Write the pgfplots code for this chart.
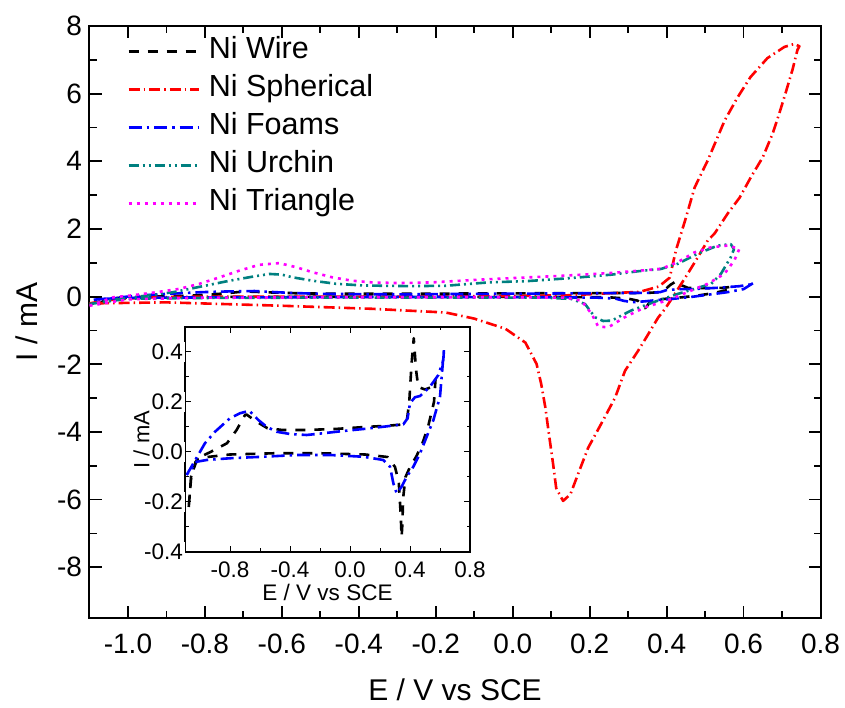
\documentclass[border=0pt]{standalone}
\usepackage{fontspec}
\setmainfont{Liberation Sans}
\usepackage{pgfplots}
\pgfplotsset{compat=1.18}
\definecolor{urchin}{RGB}{0,128,128}
\definecolor{triang}{RGB}{255,0,255}
\definecolor{foam}{RGB}{0,0,255}
\definecolor{spher}{RGB}{255,0,0}

\pgfplotstableread{
x y
-1.075 -0.22
-1.06 -0.11
-1.03 -0.04
-1.0 -0.02
-0.93 0.0
-0.82 0.035
-0.756 0.088
-0.70 0.148
-0.69 0.15
-0.62 0.12
-0.55 0.095
-0.45 0.088
-0.30 0.088
-0.10 0.092
0.10 0.10
0.25 0.105
0.35 0.11
0.38 0.13
0.395 0.20
0.41 0.35
0.425 0.455
0.44 0.33
0.455 0.26
0.50 0.25
0.545 0.26
0.57 0.29
0.56 0.20
0.52 0.10
0.48 0.03
0.44 -0.02
0.40 -0.06
0.37 -0.10
0.355 -0.18
0.348 -0.30
0.344 -0.34
0.338 -0.25
0.325 -0.12
0.30 -0.06
0.25 -0.02
0.10 -0.01
-0.20 -0.005
-0.50 -0.005
-0.80 -0.01
-0.95 -0.02
-1.02 -0.03
-1.06 -0.10
-1.075 -0.22
}\wire

\pgfplotstableread{
x y
-1.089 -0.092
-0.967 0.035
-0.90 0.081
-0.80 0.135
-0.733 0.155
-0.671 0.165
-0.611 0.128
-0.556 0.101
-0.489 0.081
-0.40 0.072
-0.289 0.068
-0.178 0.075
-0.044 0.084
0.089 0.092
0.222 0.101
0.356 0.111
0.384 0.135
0.40 0.195
0.433 0.219
0.467 0.224
0.533 0.261
0.589 0.308
0.622 0.368
0.627 0.415
0.60 0.221
0.556 0.128
0.511 0.061
0.467 -0.005
0.422 -0.059
0.378 -0.099
0.344 -0.139
0.311 -0.165
0.289 -0.125
0.267 -0.059
0.222 -0.032
0.089 -0.019
-0.133 -0.012
-0.356 -0.012
-0.578 -0.019
-0.80 -0.025
-0.956 -0.032
-1.022 -0.039
-1.089 -0.092
}\foams

\pgfplotstableread{
x y
-1.10 -0.20
-1.05 -0.10
-0.95 -0.02
-0.80 0.0
-0.50 0.0
-0.20 0.0
0.00 0.02
0.15 0.04
0.25 0.10
0.33 0.14
0.38 0.30
0.408 0.56
0.424 1.36
0.448 2.25
0.473 3.23
0.507 4.03
0.551 5.21
0.585 5.90
0.618 6.49
0.662 7.05
0.706 7.38
0.732 7.47
0.745 7.40
0.740 7.29
0.727 6.70
0.709 6.01
0.693 5.42
0.676 4.83
0.650 4.12
0.619 3.53
0.590 2.93
0.559 2.46
0.525 1.87
0.507 1.66
0.481 1.16
0.455 0.68
0.422 0.09
0.396 -0.36
0.378 -0.62
0.347 -1.21
0.326 -1.60
0.292 -2.19
0.266 -2.99
0.230 -3.76
0.196 -4.47
0.170 -5.24
0.150 -5.84
0.131 -6.04
0.113 -5.66
0.105 -4.95
0.093 -3.97
0.085 -3.29
0.074 -2.58
0.062 -1.99
0.033 -1.36
-0.019 -0.95
-0.10 -0.65
-0.174 -0.47
-0.366 -0.36
-0.60 -0.27
-0.90 -0.17
-1.10 -0.20
}\spherical

\pgfplotstableread{
x y
-1.10 -0.22
-1.04 -0.10
-0.952 0.03
-0.883 0.13
-0.796 0.33
-0.736 0.47
-0.676 0.59
-0.632 0.67
-0.600 0.65
-0.572 0.57
-0.520 0.47
-0.460 0.38
-0.391 0.33
-0.27 0.31
-0.175 0.32
-0.063 0.42
0.040 0.46
0.153 0.55
0.257 0.65
0.326 0.75
0.386 0.82
0.429 0.97
0.481 1.27
0.533 1.51
0.567 1.55
0.575 1.40
0.567 1.17
0.541 0.67
0.516 0.38
0.473 0.23
0.429 0.08
0.377 -0.12
0.308 -0.41
0.257 -0.71
0.235 -0.72
0.214 -0.61
0.188 -0.22
0.153 -0.07
0.084 -0.03
-0.20 -0.03
-0.50 -0.03
-0.80 -0.04
-1.00 -0.06
-1.10 -0.22
}\urchin

\pgfplotstableread{
x y
-1.10 -0.27
-1.038 -0.02
-0.995 0.03
-0.926 0.13
-0.866 0.23
-0.814 0.38
-0.762 0.57
-0.710 0.77
-0.659 0.94
-0.607 0.99
-0.563 0.87
-0.520 0.72
-0.469 0.57
-0.417 0.47
-0.365 0.42
-0.296 0.40
-0.21 0.42
-0.089 0.50
0.136 0.62
0.257 0.70
0.386 0.82
0.429 1.02
0.473 1.31
0.516 1.46
0.559 1.51
0.589 1.41
0.576 1.07
0.550 0.67
0.507 0.38
0.464 0.18
0.412 -0.07
0.343 -0.32
0.291 -0.61
0.248 -0.91
0.222 -0.88
0.205 -0.51
0.179 -0.12
0.136 -0.03
0.00 -0.02
-0.40 -0.02
-0.80 -0.03
-1.00 -0.08
-1.10 -0.27
}\triangle

\begin{document}
\begin{tikzpicture}
\path[use as bounding box] (-89.5pt,-90pt) rectangle (755.5pt,618pt);
\begin{axis}[
  at={(0pt,0pt)}, anchor=south west, scale only axis,
  width=731pt, height=592pt,
  xmin=-1.1, xmax=0.8, ymin=-9.5, ymax=8,
  xtick={-1,-0.8,-0.6,-0.4,-0.2,0,0.2,0.4,0.6,0.8},
  ytick={-8,-6,-4,-2,0,2,4,6,8},
  minor x tick num=1, minor y tick num=1,
  tick align=inside,
  xticklabel pos=lower, yticklabel pos=left,
  major tick length=12pt, minor tick length=7pt,
  every tick/.style={line width=1.8pt, black},
  axis line style={line width=2pt},
  tick label style={font=\fontsize{28}{32}\selectfont},
  /pgf/number format/assume math mode=true,
  xticklabel style={/pgf/number format/.cd, fixed, fixed zerofill, precision=1, /tikz/.cd, yshift=-12pt},
  yticklabel style={/pgf/number format/.cd, fixed, precision=0, /tikz/.cd, xshift=-4pt},
  xlabel={E / V vs SCE}, ylabel={I / mA},
  every axis x label/.style={at={(axis description cs:0.5,-0.1216)}, anchor=center, font=\fontsize{30}{34}\selectfont},
  every axis y label/.style={at={(axis description cs:-0.0855,0.5)}, rotate=90, anchor=center, font=\fontsize{30}{34}\selectfont},
  legend cell align=left,
  legend style={draw=none, fill=none, at={(axis description cs:0.0513,0.982)}, anchor=north west,
    inner sep=0pt, row sep=9pt, font=\fontsize{30.5}{34}\selectfont,
    nodes={inner sep=1pt, text height=21pt, text depth=6pt}},
  legend image code/.code={\draw[#1] (0pt,0pt) -- (70pt,0pt); \path (78pt,0pt);},
  every axis plot/.append style={line width=2.6pt, line join=round},
]
\addplot[black, dash pattern=on 10pt off 9pt] table {\wire};
\addlegendentry{Ni Wire}
\addplot[spher, dash pattern=on 11pt off 4pt on 1.5pt off 4pt] table {\spherical};
\addlegendentry{Ni Spherical}
\addplot[foam, dash pattern=on 13pt off 5pt on 2.5pt off 5pt] table {\foams};
\addlegendentry{Ni Foams}
\addplot[urchin, dash pattern=on 10pt off 4pt on 2pt off 4pt on 2pt off 4pt] table {\urchin};
\addlegendentry{Ni Urchin}
\addplot[triang, dash pattern=on 3pt off 5pt] table {\triangle};
\addlegendentry{Ni Triangle}
\end{axis}

\node[rotate=90, font=\fontsize{22}{26}\selectfont] at (52pt,178.5pt) {I / mA};

\begin{axis}[
  at={(95.5pt,66pt)}, anchor=south west, scale only axis,
  width=285pt, height=225pt,
  xmin=-1.1, xmax=0.8, ymin=-0.4, ymax=0.5,
  axis background/.style={fill=white},
  xtick={-0.8,-0.4,0,0.4,0.8},
  ytick={-0.4,-0.2,0,0.2,0.4},
  minor x tick num=1, minor y tick num=1,
  tick align=inside,
  xticklabel pos=lower, yticklabel pos=left,
  major tick length=6pt, minor tick length=3.5pt,
  every tick/.style={line width=1pt, black},
  axis line style={line width=1.2pt},
  tick label style={font=\fontsize{22.5}{26}\selectfont, fill=white, inner sep=2pt},
  /pgf/number format/assume math mode=true,
  xticklabel style={/pgf/number format/.cd, fixed, fixed zerofill, precision=1, /tikz/.cd, yshift=-8pt},
  yticklabel style={/pgf/number format/.cd, fixed, fixed zerofill, precision=1},
  xlabel={E / V vs SCE},
  every axis x label/.style={at={(axis description cs:0.5,-0.18)}, anchor=center, font=\fontsize{22.5}{26}\selectfont},
  every axis plot/.append style={line width=2.6pt, line join=round},
]
\addplot[black, dash pattern=on 10pt off 9pt] table {\wire};
\addplot[foam, dash pattern=on 13pt off 5pt on 2.5pt off 5pt] table {\foams};
\end{axis}
\end{tikzpicture}
\end{document}
